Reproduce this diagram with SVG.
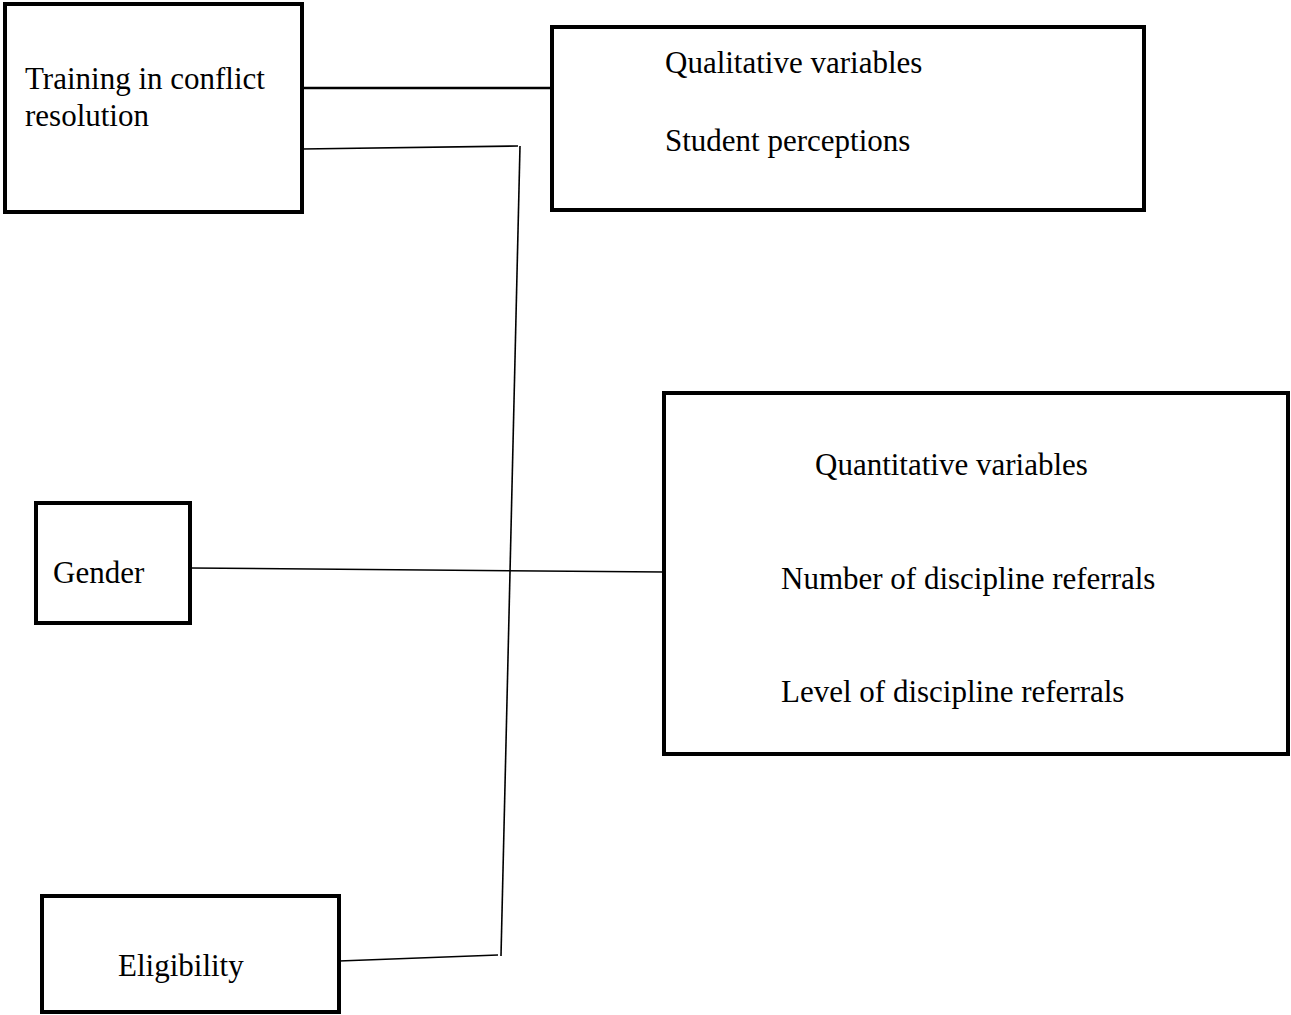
<svg xmlns="http://www.w3.org/2000/svg" width="1291" height="1015" viewBox="0 0 1291 1015">
<style>
.box{fill:#fff;stroke:#000;stroke-width:4}
.t{font-family:"Liberation Serif","Times New Roman",serif;font-size:31px;fill:#000}
.c{fill:none;stroke:#000;stroke-width:1.6}
.c2{fill:none;stroke:#000;stroke-width:2.5}
</style>
<rect width="1291" height="1015" fill="#fff"/>
<g id="connectors">
<line class="c2" x1="302" y1="88" x2="552" y2="88"/>
<polyline class="c" points="302,149 518,146"/>
<line class="c" x1="520" y1="146" x2="501" y2="956"/>
<polyline class="c" points="339,961 498,955"/>
<line class="c" x1="190" y1="568" x2="664" y2="572"/>
</g>
<g id="training">
<rect class="box" x="5" y="4" width="297" height="208"/>
<text class="t" x="25" y="89">Training in conflict</text>
<text class="t" x="25" y="126">resolution</text>
</g>
<g id="qualitative">
<rect class="box" x="552" y="27" width="592" height="183"/>
<text class="t" x="665" y="73">Qualitative variables</text>
<text class="t" x="665" y="151">Student perceptions</text>
</g>
<g id="quantitative">
<rect class="box" x="664" y="393" width="624" height="361"/>
<text class="t" x="815" y="475">Quantitative variables</text>
<text class="t" x="781" y="589">Number of discipline referrals</text>
<text class="t" x="781" y="702">Level of discipline referrals</text>
</g>
<g id="gender">
<rect class="box" x="36" y="503" width="154" height="120"/>
<text class="t" x="53" y="583">Gender</text>
</g>
<g id="eligibility">
<rect class="box" x="42" y="896" width="297" height="116"/>
<text class="t" x="118" y="976">Eligibility</text>
</g>
</svg>
